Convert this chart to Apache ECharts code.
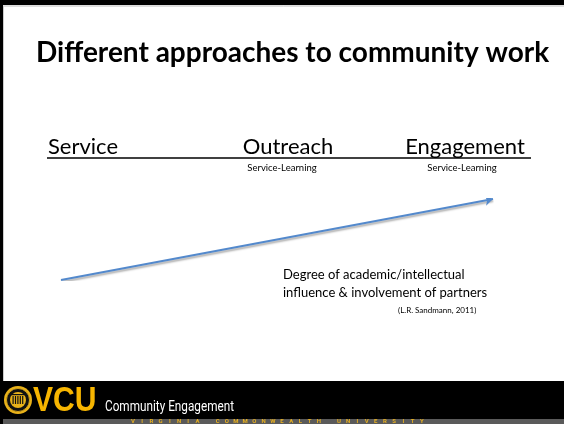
<!DOCTYPE html>
<html><head><meta charset="utf-8">
<script src="https://cdn.jsdelivr.net/npm/echarts@6/dist/echarts.min.js"></script>
<style>html,body{margin:0;padding:0;background:#fff}#c{width:564px;height:424px}</style>
</head><body><div id="c"></div>
<script>
// ---- data ----
var title = 'Different approaches to community work';
var stages = ['Service', 'Outreach', 'Engagement'];
var stageSub = ['', 'Service-Learning', 'Service-Learning'];
var arrowStart = [0, 0];   // low degree of influence
var arrowEnd = [100, 100]; // high degree of influence
var captionLines = ['Degree of academic/intellectual', 'influence & involvement of partners'];
var citation = '(L.R. Sandmann, 2011)';
var footerBrand = 'VCU';
var footerText = 'Community Engagement';
var footerWords = ['VIRGINIA', 'COMMONWEALTH', 'UNIVERSITY'];

// ---- layout ----
var stageX = [83, 288, 465];
var subX = [0, 282, 462];
var font = 'Lato, "Open Sans", sans-serif';

var g = [];
// slide frame
g.push({type:'rect', shape:{x:0,y:0,width:564,height:5}, style:{fill:'#000'}, z:10});
g.push({type:'rect', shape:{x:0,y:0,width:3,height:424}, style:{fill:'#000'}, z:10});
g.push({type:'line', shape:{x1:3,y1:6,x2:564,y2:6}, style:{stroke:'#bbb',lineWidth:1}, z:10});
g.push({type:'line', shape:{x1:3.5,y1:6,x2:3.5,y2:381}, style:{stroke:'#ccc',lineWidth:1}, z:10});

// title
g.push({type:'text', x:36, y:53, style:{text:title, font:'bold 28px ' + font, fill:'#000', textVerticalAlign:'middle'}});

// stages
stages.forEach(function(s, i){
  g.push({type:'text', x:stageX[i], y:147, style:{text:s, font:'22px ' + font, fill:'#000', textAlign:'center', textVerticalAlign:'middle'}});
  if (stageSub[i]) g.push({type:'text', x:subX[i], y:168, style:{text:stageSub[i], font:'9.5px ' + font, fill:'#000', textAlign:'center', textVerticalAlign:'middle'}});
});
g.push({type:'line', shape:{x1:47,y1:158,x2:531,y2:158}, style:{stroke:'#000',lineWidth:1.4}});

// caption
captionLines.forEach(function(t, i){
  g.push({type:'text', x:283, y:275 + i*18, style:{text:t, font:'13px ' + font, fill:'#000', textVerticalAlign:'middle'}});
});
g.push({type:'text', x:398, y:310, style:{text:citation, font:'8px ' + font, fill:'#000', textVerticalAlign:'middle'}});

// footer
g.push({type:'rect', shape:{x:0,y:381,width:564,height:38}, style:{fill:'#000'}});
g.push({type:'rect', shape:{x:0,y:419,width:564,height:5}, style:{fill:'#5a5a5a'}});
// seal
g.push({type:'circle', shape:{cx:18,cy:400,r:14}, style:{fill:'#e9b21a'}});
g.push({type:'circle', shape:{cx:18,cy:400,r:11.5}, style:{fill:'#111', stroke:'#e9b21a', lineWidth:0.8}});
g.push({type:'circle', shape:{cx:18,cy:400,r:8}, style:{fill:'#e9b21a'}});
for (var k = 0; k < 5; k++) g.push({type:'rect', shape:{x:12.5 + k*2.4, y:396, width:1.2, height:8}, style:{fill:'#111'}});
g.push({type:'rect', shape:{x:11,y:394,width:14,height:1.2}, style:{fill:'#111'}});
g.push({type:'text', x:33, y:401, scaleX:0.86, style:{text:footerBrand, font:'bold 35px "Liberation Sans", Arial, sans-serif', fill:'#f7b500', textVerticalAlign:'middle'}});
g.push({type:'text', x:105, y:407, scaleX:0.84, style:{text:footerText, font:'14px Roboto, sans-serif', fill:'#fff', textVerticalAlign:'middle'}});
// tiny letters in bottom strip
var px = 133;
footerWords.forEach(function(w){
  for (var j = 0; j < w.length; j++) {
    g.push({type:'text', x:px, y:421.5, style:{text:w[j], font:'bold 6px Roboto, sans-serif', fill:'#e8b020', textAlign:'center', textVerticalAlign:'middle'}});
    px += 9.2;
  }
  px += 11;
});

var chart = echarts.init(document.getElementById('c'), null, {renderer:'canvas'});
chart.setOption({
  animation:false,
  backgroundColor:'#fff',
  grid:{left:61, right:71, top:199, bottom:144},
  xAxis:{type:'value', min:0, max:100, show:false},
  yAxis:{type:'value', min:0, max:100, show:false},
  series:[{
    type:'lines', coordinateSystem:'cartesian2d',
    symbol:['none','arrow'], symbolSize:8,
    lineStyle:{color:'#5389cc', width:2, opacity:1, shadowColor:'rgba(0,0,0,0.35)', shadowBlur:2, shadowOffsetY:2},
    data:[{coords:[arrowStart, arrowEnd]}]
  }],
  graphic:g
});
</script></body></html>
